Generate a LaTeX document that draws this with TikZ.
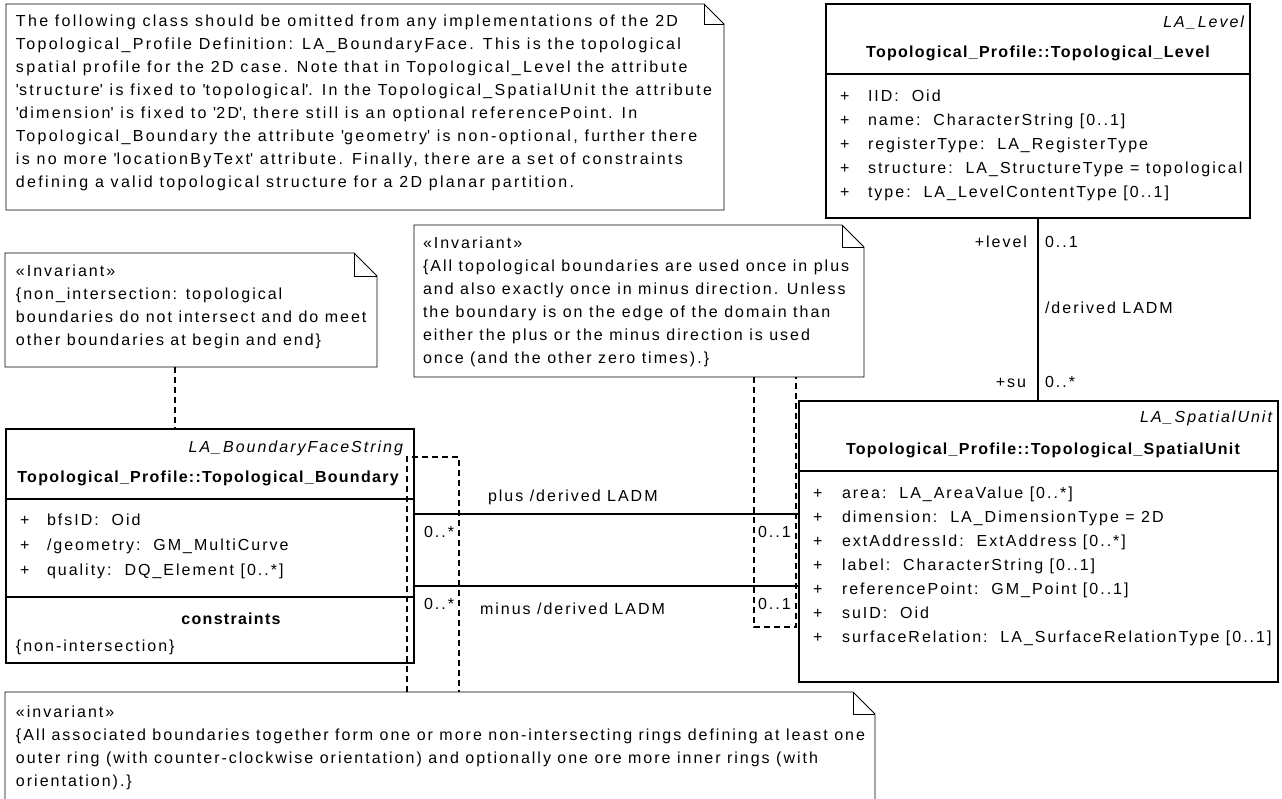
\documentclass[tikz,border=0pt]{standalone}
\usepackage{fontspec}
\setmainfont{Liberation Sans}[LetterSpace=12.5, BoldFeatures={LetterSpace=8}]
\newcommand\dfont{\fontsize{16}{19}\selectfont}
\newcommand\wfont{\fontsize{16}{19}\selectfont\addfontfeature{LetterSpace=14.5}}
\newcommand\q{\textquotesingle}
\newcommand\drawnote[2]{%
  \draw[notel] (#1.north west) -- ([xshift=-#2pt]#1.north east) -- ([yshift=-#2pt]#1.north east) -- (#1.south east) -- (#1.south west) -- cycle;
  \draw[notel] ([xshift=-#2pt]#1.north east) -- ([xshift=-#2pt,yshift=-#2pt]#1.north east) -- ([yshift=-#2pt]#1.north east);}
\begin{document}
\begin{tikzpicture}[x=1pt,y=-1pt,
  cls/.style={draw, line width=1.6pt, inner sep=0pt, outer sep=0pt, anchor=north west},
  area/.style={inner sep=0pt, outer sep=0pt, anchor=north west},
  notel/.style={draw, line width=0.9pt, line join=miter},
  txt/.style={inner sep=0pt, outer sep=0pt, anchor=west, text height=11pt, text depth=3pt, font=\dfont},
  wtxt/.style={txt, font=\wfont},
  rtxt/.style={txt, anchor=east},
  ctxt/.style={txt, anchor=center},
  assoc/.style={line width=1.6pt},
  anchorline/.style={line width=1.2pt, dash pattern=on 6pt off 4pt},
  divider/.style={line width=1.6pt}
]
\useasboundingbox (0,0) rectangle (1282,798);
\clip (0,0) rectangle (1282,798);

% ---------- notes ----------
\node[area, minimum width=718pt, minimum height=206pt] (ntop) at (6,4) {};
\node[area, minimum width=372pt, minimum height=114pt] (nleft) at (5,253) {};
\node[area, minimum width=450pt, minimum height=152pt] (nmid) at (414,225) {};
\node[area, minimum width=870pt, minimum height=130pt] (nbot) at (5,692) {};
\drawnote{ntop}{20}
\drawnote{nleft}{23}
\drawnote{nmid}{22}
\drawnote{nbot}{22}

\foreach \t [count=\i from 0] in {
 {The following class should be omitted from any implementations of the 2D},
 {Topological\_Profile Definition: LA\_BoundaryFace. This is the topological},
 {spatial profile for the 2D case. Note that in Topological\_Level the attribute},
 {\q structure\q\ is fixed to \q topological\q. In the Topological\_SpatialUnit the attribute},
 {\q dimension\q\ is fixed to \q 2D\q, there still is an optional referencePoint. In},
 {Topological\_Boundary the attribute \q geometry\q\ is non-optional, further there},
 {is no more \q locationByText\q\ attribute. Finally, there are a set of constraints},
 {defining a valid topological structure for a 2D planar partition.}}
 \node[wtxt] (ttop\i) at (16,22+23*\i) {\t};

\foreach \t [count=\i from 0] in {
 {«Invariant»},
 {\{non\_intersection: topological},
 {boundaries do not intersect and do meet},
 {other boundaries at begin and end\}}}
 \node[txt] (tleft\i) at (16,272+23*\i) {\t};

\foreach \t [count=\i from 0] in {
 {«Invariant»},
 {\{All topological boundaries are used once in plus},
 {and also exactly once in minus direction. Unless},
 {the boundary is on the edge of the domain than},
 {either the plus or the minus direction is used},
 {once (and the other zero times).\}}}
 \node[txt] (tmid\i) at (423,244+23*\i) {\t};

\foreach \t [count=\i from 0] in {
 {«invariant»},
 {\{All associated boundaries together form one or more non-intersecting rings defining at least one},
 {outer ring (with counter-clockwise orientation) and optionally one ore more inner rings (with},
 {orientation).\}}}
 \node[txt] (tbot\i) at (16,713+23*\i) {\t};

% ---------- classes ----------
\node[cls, minimum width=424pt, minimum height=214pt] (lvl) at (826,4) {};
\node[cls, minimum width=479pt, minimum height=281pt] (su) at (799,401) {};
\node[cls, minimum width=408pt, minimum height=234pt] (bnd) at (6,429) {};

% Level
\node[rtxt, font=\dfont\itshape] (lvls) at (1244,23) {LA\_Level};
\node[ctxt, font=\dfont\bfseries] (lvlt) at (1038,53) {Topological\_Profile::Topological\_Level};
\draw[divider] (lvl.west |- 0,74) -- (lvl.east |- 0,74);
\foreach \t [count=\i from 0] in {
 {IID:\ \ Oid},
 {name:\ \ CharacterString [0..1]},
 {registerType:\ \ LA\_RegisterType},
 {structure:\ \ LA\_StructureType = topological},
 {type:\ \ LA\_LevelContentType [0..1]}}
 {\node[txt] (lvlp\i) at (840,97+24*\i) {+};
  \node[txt] (lvla\i) at (868,97+24*\i) {\t};}

% Spatial unit
\node[rtxt, font=\dfont\itshape] (sus) at (1272,418) {LA\_SpatialUnit};
\node[ctxt, font=\dfont\bfseries] (sut) at (1043,450) {Topological\_Profile::Topological\_SpatialUnit};
\draw[divider] (su.west |- 0,471) -- (su.east |- 0,471);
\foreach \t [count=\i from 0] in {
 {area:\ \ LA\_AreaValue [0..*]},
 {dimension:\ \ LA\_DimensionType = 2D},
 {extAddressId:\ \ ExtAddress [0..*]},
 {label:\ \ CharacterString [0..1]},
 {referencePoint:\ \ GM\_Point [0..1]},
 {suID:\ \ Oid},
 {surfaceRelation:\ \ LA\_SurfaceRelationType [0..1]}}
 {\node[txt] (sup\i) at (813,494+24*\i) {+};
  \node[txt] (sua\i) at (842,494+24*\i) {\t};}

% Boundary
\node[rtxt, font=\dfont\itshape] (bnds) at (403,448) {LA\_BoundaryFaceString};
\node[ctxt, font=\dfont\bfseries] (bndt) at (208,478) {Topological\_Profile::Topological\_Boundary};
\draw[divider] (bnd.west |- 0,499) -- (bnd.east |- 0,499);
\foreach \t [count=\i from 0] in {
 {bfsID:\ \ Oid},
 {/geometry:\ \ GM\_MultiCurve},
 {quality:\ \ DQ\_Element [0..*]}}
 {\node[txt] (bndp\i) at (20,521+25*\i) {+};
  \node[txt] (bnda\i) at (47,521+25*\i) {\t};}
\draw[divider] (bnd.west |- 0,597) -- (bnd.east |- 0,597);
\node[ctxt, font=\dfont\bfseries] (bndc) at (231,620) {constraints};
\node[txt] (bndn) at (16,647) {\{non-intersection\}};

% ---------- connectors ----------
\coordinate (yplus) at (0,514);
\coordinate (yminus) at (0,586);
\draw[assoc] (lvl.south) -- (lvl.south |- su.north);
\draw[assoc] (bnd.east |- yplus) -- (su.west |- yplus);
\draw[assoc] (bnd.east |- yminus) -- (su.west |- yminus);

\node[rtxt] (lbllevel) at (1027,243) {+level};
\node[txt] (lblm1) at (1045,243) {0..1};
\node[txt] (lblder) at (1045,309) {/derived LADM};
\node[rtxt] (lblsu) at (1026,383) {+su};
\node[txt] (lblm2) at (1045,383) {0..*};

\node[txt] (lblplus) at (488,497) {plus /derived LADM};
\node[txt] (lblp1) at (424,533) {0..*};
\node[txt] (lblp2) at (758,533) {0..1};
\node[txt] (lblminus) at (480,610) {minus /derived LADM};
\node[txt] (lblm3) at (424,605) {0..*};
\node[txt] (lblm4) at (758,605) {0..1};

% note anchors (dashed)
\coordinate (xa) at (175,0);
\draw[anchorline] (nleft.south -| xa) -- (bnd.north -| xa);
\coordinate (dl1) at (407,457);
\coordinate (dl2) at (459,457);
\draw[anchorline] (nbot.north -| dl1) -- (dl1) -- (dl2) -- (nbot.north -| dl2);
\coordinate (dr1) at (754,627);
\coordinate (dr2) at (796,627);
\draw[anchorline] (nmid.south -| dr1) -- (dr1) -- (dr2) -- (nmid.south -| dr2);
\end{tikzpicture}
\end{document}
